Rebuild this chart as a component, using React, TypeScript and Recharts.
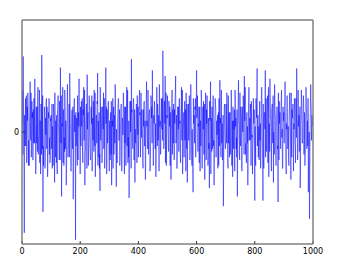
import React from "react";
import { LineChart, Line, XAxis, YAxis } from "recharts";

// noise signal: readings at even steps (0, 2, 4 ... 1000)
const evenSamples = [
  0.8, 1.5, 2.7, -0.2, -3.6, -0.5, 1.2, 0.3, -1.1, 0.9, 1.4, -1.2, -0.6, 0.6, 1.8, -0.3, -0.9, 1.1, 0.7, -1.0, -0.4, 0.8, 1.9, 0.2, -1.3,
  -0.4, 0.9, 1.3, -0.8, -0.2, 1.5, 0.4, -1.5, 0.9, 2.75, -0.6, -2.85, -1.2, 0.3, 0.6, -0.9, -0.1, 1.2, 0.9, -1.6, 0.2, 0.5, -0.8, -1.1, 0.5,
  0.6, -0.3, -1.3, 0.2, 1.0, 0.5, -1.8, -0.6, 0.4, -1.1, -0.7, 0.8, 1.3, 0.1, -1.0, 0.7, 2.3, -0.4, -2.3, 0.3, 1.6, 0.5, -1.2, -0.7, 0.9,
  0.4, -1.9, 0.1, 1.7, -0.9, -0.5, 1.0, 2.1, 0.3, -1.4, -0.2, 0.8, -0.6, -2.4, 0.4, 1.2, 0.6, -3.85, -0.5, 0.5, -1.2, -0.8, 0.7, 1.9, 0.2,
  -1.5, -0.4, 1.1, 0.3, -0.6, 0.8, 1.6, -0.2, -1.9, -0.7, 0.7, 1.0, 2.05, 0.5, -1.2, -0.1, 0.4, -0.6, -1.0, 0.9, 1.3, 0.2, -0.3, 0.6, 1.5,
  -0.5, -1.6, -0.3, 0.6, 1.1, 2.1, 0.4, -0.9, -1.3, -2.1, 0.2, 0.9, -0.2, -0.5, 0.7, 1.4, 0.1, -1.3, 0.5, 2.3, 0.9, -0.7, -0.4, 1.0, 0.3,
  -1.4, -0.5, 0.5, -0.8, -1.9, 0.4, 1.2, 0.2, -0.8, 0.6, 1.7, -0.3, -1.95, -0.6, 0.3, 0.9, 1.1, -0.2, -1.2, 0.1, 0.8, -0.7, -0.6, 0.5, 1.4,
  0.3, -1.5, -0.4, 0.9, 0.2, 1.6, 0.6, -1.1, -0.9, -2.35, -0.3, 0.6, 1.1, 2.6, 0.8, -0.4, 0.7, 1.0, -0.5, -1.8, -0.3, 0.7, 0.9, 1.3, -0.1,
  -0.9, 0.4, 1.5, 0.7, -0.2, 0.3, 0.8, -0.4, -1.3, 0.2, 1.1, -0.5, -1.7, 0.6, 1.8, 0.4, -0.6, -0.1, 0.5, 0.8, -1.4, -0.2, 1.2, 0.9, 2.2,
  0.1, -1.1, 0.3, 0.9, -0.6, -1.6, 0.5, 1.4, 1.0, -0.3, 0.6, 1.7, 0.2, -0.8, 0.4, 0.6, 1.2, 2.9, 0.9, -0.5, 1.1, 2.0, 0.3, -1.2, 0.6,
  1.3, 0.2, -0.7, 0.5, 0.9, -0.4, -1.7, 0.3, 1.5, 0.8, -0.4, 0.1, 0.8, 1.2, 2.0, -0.2, -1.3, -0.5, 0.4, 0.9, 1.1, 0.3, -0.9, 0.6, 1.6,
  -0.3, -1.5, 0.1, 0.7, 0.5, -0.3, 0.8, 1.4, -0.6, -1.8, -0.2, 1.0, 0.7, 0.2, -0.5, 1.7, 0.4, -1.2, -0.8, -2.15, 0.3, 0.6, 0.9, 1.2, 0.6,
  2.2, 0.7, -0.6, 0.3, 0.9, -0.2, -1.4, 0.4, 1.5, 0.6, -0.2, 0.9, 1.1, -0.4, -1.7, 0.2, 0.5, 0.8, 1.3, -0.3, -1.0, -0.6, -2.0, 0.4, 1.8,
  0.5, -0.7, 0.1, 0.8, -0.5, -1.9, 0.3, 1.2, 0.8, -0.4, -0.1, 0.6, -0.7, -1.2, 0.2, 1.85, 0.5, -0.9, -0.4, 0.3, -0.8, -2.65, 0.1, 1.0, -0.3,
  -0.5, 0.6, 1.4, 0.2, -1.3, -0.4, 0.7, 0.3, -0.8, 0.5, 1.2, -0.3, -1.6, 0.1, 0.4, 0.8, 1.5, 0.2, -0.6, -0.9, -2.3, 0.4, 1.85, 0.3, -1.0,
  -0.2, 0.9, 0.6, -1.4, 0.1, 1.3, 0.7, 2.0, 0.4, -0.8, -0.5, 0.5, -0.4, -1.9, 0.2, 1.6, 0.5, -0.3, 0.6, 1.1, -0.2, -1.5, -0.3, 0.6, 0.8,
  -2.45, -0.4, 1.2, 0.5, 2.27, 0.3, -0.9, 0.2, 0.8, -0.3, -1.3, 0.4, 1.6, -0.5, -2.45, 0.1, 0.5, 0.7, 2.2, 0.4, -0.7, 0.6, 1.3, -0.2, -1.6,
  0.3, 1.9, 0.5, -0.4, 0.8, 1.0, -0.4, -1.8, -0.3, 1.7, 0.6, -0.6, 0.2, 0.9, -0.6, -2.5, -0.2, 1.1, 0.7, -0.2, 0.9, 1.5, 0.1, -1.3, 0.4,
  0.7, 0.9, 1.8, -0.2, -1.5, 0.1, 0.4, -0.5, -0.9, 0.6, 1.4, 0.2, -1.7, -0.3, 0.8, 0.5, -0.5, 0.3, 1.2, -0.4, -1.1, 0.7, 2.27, 0.4, -0.8,
  0.2, 0.6, -0.6, -2.0, 0.3, 1.5, 0.5, -0.4, 0.8, 1.0, -0.1, -1.2, 0.4, 1.6, 0.7, 0.2, -0.5, -2.15, -0.6, -3.1, 0.2, 1.7, 0.9, 0.3, 0.5,
  0.4,
];

// readings at odd steps (1, 3, 5 ... 999)
const oddSamples = [
  0.3, -0.8, 1.1, -1.4, 0.6, 0.2, -0.5, 1.3, -0.9, 0.4, 1.0, -0.3, -1.2, 0.7, 0.1, 1.4, -0.6, 0.5, -1.0, 0.8, 1.2, -0.4, 0.3, -1.5, 0.9,
  0.0, -0.7, 1.6, -0.2, 0.6, -1.1, 0.4, 1.0, -0.8, 0.2, 1.3, -0.5, -0.1, 0.9, -1.3, 0.5, 1.1, -0.6, 0.3, -0.9, 0.7, 1.2, -0.2, -1.0, 0.4,
  -0.6, 1.0, 0.2, -1.2, 0.8, -0.3, 1.4, -0.9, 0.1, 0.6, -1.5, 0.9, 0.3, -0.4, 1.1, -1.0, 0.5, 1.3, -0.7, 0.2, -1.1, 0.8, -0.2, 1.5, -0.6,
  0.4, -1.3, 0.7, 1.0, -0.5, 0.3, -0.9, 1.2, 0.1, -1.4, 0.6, -0.3, 0.9, -0.8, 1.1, 0.0, -1.2, 0.7, 0.4, -0.6, 1.3, -1.0, 0.2, 0.8, -0.4,
  0.9, -0.5, 0.2, 1.2, -1.1, 0.6, -0.3, 1.5, -0.8, 0.4, 1.0, -1.3, 0.1, 0.7, -0.6, 1.3, -0.2, -1.0, 0.8, 0.3, -1.4, 0.5, 1.1, -0.7, 0.0,
  1.4, -0.9, 0.6, -0.4, 1.0, -1.2, 0.2, 0.7, -0.8, 1.6, -0.3, 0.4, -1.1, 0.9, 0.1, -0.6, 1.2, -1.0, 0.5, 0.3, -1.5, 0.8, -0.2, 1.1, -0.7,
  0.4, -1.0, 0.7, 1.1, -0.6, 0.2, -1.3, 0.9, 0.5, -0.4, 1.4, -0.8, 0.1, -1.1, 0.6, 1.2, -0.3, 0.8, -0.9, 0.3, 1.0, -1.4, 0.5, -0.1, 1.3,
  -0.7, 0.9, 0.2, -1.2, 0.6, -0.5, 1.5, -0.2, 0.4, -0.9, 1.1, 0.0, -1.3, 0.7, 0.3, -0.6, 1.2, -1.0, 0.8, 0.1, -0.4, 1.0, -1.1, 0.5, 0.9,
  -0.3, 1.2, 0.6, -0.9, 1.4, -0.2, 0.3, -1.1, 0.8, 1.0, -0.5, 0.4, -1.3, 1.1, 0.2, -0.6, 1.5, -0.8, 0.7, 0.0, -1.0, 1.3, 0.5, -0.4, 0.9,
  -1.2, 0.6, 1.1, -0.1, 0.3, -0.9, 1.6, -0.5, 0.8, 0.2, -1.4, 1.0, 0.4, -0.7, 1.2, 0.1, -0.3, 1.7, -0.6, 0.9, 0.3, -1.1, 1.4, -0.2, 0.5,
  0.8, -0.6, 1.1, 0.2, -1.2, 0.7, -0.1, 1.3, -0.8, 0.5, 1.0, -1.0, 0.3, 1.4, -0.4, 0.6, -1.3, 0.9, 0.1, -0.7, 1.2, 0.4, -1.1, 0.8, -0.2,
  1.5, -0.5, 0.3, -0.9, 1.1, 0.6, -1.4, 0.2, 1.0, -0.6, 0.7, -0.3, 1.3, -1.0, 0.4, 0.9, -0.8, 0.1, -1.5, 1.2, 0.5, -0.4, 0.8, -0.9, 1.0,
  0.5, 1.3, -0.7, 0.2, -1.1, 0.9, 0.4, -0.5, 1.2, -1.3, 0.6, 0.1, -0.8, 1.0, -0.2, 1.4, -1.0, 0.3, 0.7, -1.2, 0.5, -0.4, 1.1, 0.8, -1.5,
  0.2, 0.9, -0.6, 1.3, -0.3, -1.1, 0.6, 1.0, -0.9, 0.4, 0.0, -1.3, 0.7, 1.2, -0.5, 0.3, -0.8, 1.5, -0.1, -1.0, 0.6, -1.4, 0.9, 0.2, -0.6,
  1.0, -0.4, 0.6, -1.1, 1.3, 0.2, -0.9, 0.7, -0.3, 1.5, -1.2, 0.4, 0.9, -0.6, 0.1, -1.4, 1.1, 0.5, -0.2, 0.8, -1.0, 1.2, 0.3, -0.7, 1.4,
  -0.5, 0.6, -1.3, 0.9, 0.0, 1.1, -0.8, 0.4, 1.6, -0.4, -1.1, 0.7, 0.2, -0.9, 1.3, -0.3, 0.5, 1.0, -1.2, 0.8, -0.1, -0.6, 1.2, 0.3, -0.8,
  0.2, -1.2, 0.9, 1.4, -0.5, 0.6, -0.2, -1.0, 1.1, 0.3, -0.8, 1.5, 0.4, -0.6, 1.0, -1.3, 0.7, 0.1, -0.9, 1.2, -0.4, 0.8, -1.1, 1.6, 0.2,
  -0.7, 1.0, 0.5, -1.4, 0.9, -0.3, 1.3, 0.0, -0.8, 1.1, 0.6, -1.2, 0.4, 0.8, -0.5, 1.4, -1.0, 0.3, 0.7, -0.6, 1.2, -0.2, -1.3, 0.9, 0.5,
  -0.4, 1.1, 0.7, -1.1, 0.3, 1.3, -0.6, 0.2, -1.2, 0.9, 0.5, -0.3, 1.4, -0.9, 0.6, 1.0, -1.4, 0.1, 0.8, -0.5, 1.2, -0.2, 0.4, -1.0, 1.5,
  0.3, -0.7, 0.9, -1.3, 0.6, 1.1, -0.4, 0.2, 1.3, -0.8, 0.7, -1.1, 0.5, 1.0, -0.6, 0.4, 1.2, -0.9, 0.0, -1.6, 0.8, 1.1, -0.3, 0.6, 0.2,
];

const xTicks = [0, 200, 400, 600, 800, 1000];
const yTicks = [0];

const data = [
  ...evenSamples.map((v, i) => ({ x: i * 2, y: v })),
  ...oddSamples.map((v, i) => ({ x: i * 2 + 1, y: v })),
].sort((a, b) => a.x - b.x);

const tickStyle = { fill: "#000", fontSize: 8, fontFamily: "DejaVu Sans" };
const frame = { stroke: "#808080", strokeWidth: 1.5 };

export default function App() {
  return (
    <div style={{ position: "absolute", left: 0, top: 0, background: "#fff" }}>
      <LineChart
        width={345}
        height={266}
        data={data}
        margin={{ top: 19, right: 31, left: 0, bottom: 0 }}
      >
        <XAxis
          dataKey="x"
          type="number"
          domain={[0, 1000]}
          allowDataOverflow
          ticks={xTicks}
          tick={tickStyle}
          tickLine={{ stroke: "#333" }}
          tickSize={-3}
          axisLine={frame}
          height={22}
          tickMargin={7}
        />
        <XAxis
          xAxisId="top"
          orientation="top"
          dataKey="x"
          type="number"
          domain={[0, 1000]}
          allowDataOverflow
          ticks={xTicks}
          tick={false}
          tickLine={{ stroke: "#333" }}
          tickSize={-3}
          axisLine={frame}
          height={1}
        />
        <YAxis
          type="number"
          domain={[-4, 4]}
          ticks={yTicks}
          tick={tickStyle}
          tickLine={{ stroke: "#333" }}
          tickSize={-3}
          axisLine={frame}
          width={22}
          tickMargin={6}
        />
        <YAxis
          yAxisId="right"
          orientation="right"
          type="number"
          domain={[-4, 4]}
          ticks={yTicks}
          tick={false}
          tickLine={{ stroke: "#333" }}
          tickSize={-3}
          axisLine={frame}
          width={1}
        />
        <Line
          type="linear"
          dataKey="y"
          stroke="#0000ff"
          strokeOpacity={0.5}
          strokeWidth={1}
          dot={false}
          isAnimationActive={false}
        />
      </LineChart>
    </div>
  );
}
